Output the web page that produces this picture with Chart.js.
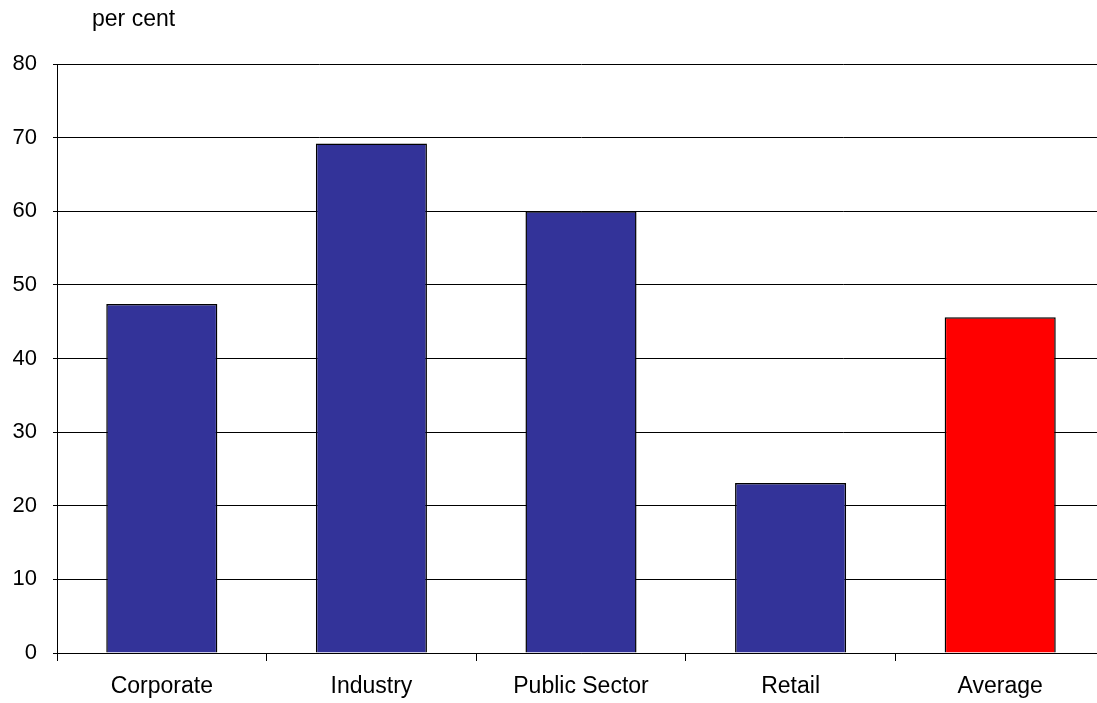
<!DOCTYPE html>
<html>
<head>
<meta charset="utf-8">
<script src="https://cdn.jsdelivr.net/npm/chart.js@4"></script>
<style>
  html, body { margin: 0; padding: 0; background: #fff; overflow: hidden; }
  #clip { width: 1097px; height: 703px; overflow: hidden; position: relative; }
  #wrap { width: 1106px; height: 703px; position: relative; }
</style>
</head>
<body>
<div id="clip"><div id="wrap"><canvas id="chart"></canvas></div></div>
<script>
// chart data
const categories = ['Corporate', 'Industry', 'Public Sector', 'Retail', 'Average'];
const values = [47.4, 69.2, 60.0, 23.1, 45.6];
const barColors = ['#333399', '#333399', '#333399', '#333399', '#ff0000'];
const yTicks = [0, 10, 20, 30, 40, 50, 60, 70, 80];

const unitLabel = {
    id: 'unitLabel',
    afterDraw(chart) {
        const ctx = chart.ctx;
        ctx.save();
        ctx.font = '23px "Liberation Sans", Arial, sans-serif';
        ctx.fillStyle = '#000';
        ctx.textAlign = 'left';
        ctx.textBaseline = 'middle';
        ctx.fillText('per cent', 92, 20);
        ctx.restore();
    }
};

Chart.defaults.font.family = '"Liberation Sans", Arial, sans-serif';
Chart.defaults.font.size = 23;
Chart.defaults.color = '#000';

const ctx = document.getElementById('chart').getContext('2d');
new Chart(ctx, {
    type: 'bar',
    data: {
        labels: categories,
        datasets: [{
            data: values,
            backgroundColor: barColors,
            borderColor: '#000',
            borderWidth: 1.5,
            barPercentage: 0.53,
            categoryPercentage: 1
        }]
    },
    options: {
        responsive: true,
        maintainAspectRatio: false,
        animation: false,
        layout: { padding: { top: 64, right: 1, left: 0, bottom: 0 } },
        plugins: {
            legend: { display: false },
            tooltip: { enabled: false }
        },
        scales: {
            x: {
                grid: { drawOnChartArea: false, drawTicks: true, tickLength: 8, color: '#000' },
                border: { color: '#000', width: 1 },
                ticks: { padding: 12, font: { size: 23 } },
                afterFit(scale) { scale.height = 50; }
            },
            y: {
                min: 0,
                max: 80,
                afterBuildTicks(scale) { scale.ticks = yTicks.map(v => ({ value: v })); },
                grid: { color: '#000', lineWidth: 1, tickLength: 4 },
                border: { color: '#000', width: 1 },
                ticks: { padding: 16, font: { size: 22 } },
                afterFit(scale) { scale.width = 57; }
            }
        }
    },
    plugins: [unitLabel]
});
</script>
</body>
</html>
